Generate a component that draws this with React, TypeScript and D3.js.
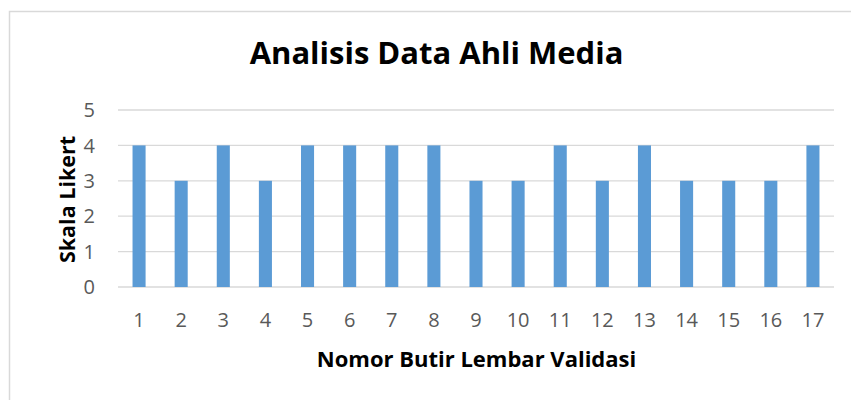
import React, { useEffect, useRef } from 'react';
import * as d3 from 'd3';

const items = ['1', '2', '3', '4', '5', '6', '7', '8', '9', '10', '11', '12', '13', '14', '15', '16', '17'];
const scores = [4, 3, 4, 3, 4, 4, 4, 4, 3, 3, 4, 3, 4, 3, 3, 3, 4];
const yTicks = [0, 1, 2, 3, 4, 5];

const FONT = "'Open Sans', sans-serif";

const App: React.FC = () => {
  const ref = useRef<SVGSVGElement | null>(null);

  useEffect(() => {
    if (!ref.current) return;
    const svg = d3.select(ref.current);
    svg.selectAll('*').remove();

    const width = 851;
    const height = 400;
    const left = 118;
    const right = 834;
    const top = 110;
    const bottom = 287;

    svg.append('rect').attr('width', width).attr('height', height).attr('fill', '#fff');

    // chart frame (runs off the right and bottom)
    svg.append('rect')
      .attr('x', 9.5).attr('y', 11.5)
      .attr('width', 900).attr('height', 500)
      .attr('fill', 'none').attr('stroke', '#d9d9d9').attr('stroke-width', 1.5);

    const x = d3.scaleBand<string>().domain(items).range([left, right]).paddingInner(0.69).paddingOuter(0.345);
    const y = d3.scaleLinear().domain([0, 5]).range([bottom, top]);

    svg.append('g').selectAll('line').data(yTicks).enter().append('line')
      .attr('x1', left).attr('x2', right)
      .attr('y1', d => y(d)).attr('y2', d => y(d))
      .attr('stroke', '#d9d9d9').attr('stroke-width', 1.3);

    svg.append('g').selectAll('rect').data(scores).enter().append('rect')
      .attr('x', (_, i) => x(items[i]) as number)
      .attr('y', d => y(d))
      .attr('width', x.bandwidth())
      .attr('height', d => bottom - y(d))
      .attr('fill', '#5b9bd5');

    svg.append('g').selectAll('text').data(yTicks).enter().append('text')
      .attr('x', 95).attr('y', d => y(d))
      .attr('dy', '0.36em')
      .attr('text-anchor', 'end')
      .attr('font-family', FONT).attr('font-size', 20)
      .attr('fill', '#595959')
      .text(d => d);

    svg.append('g').selectAll('text').data(items).enter().append('text')
      .attr('x', d => (x(d) as number) + x.bandwidth() / 2)
      .attr('y', 326.5)
      .attr('text-anchor', 'middle')
      .attr('font-family', FONT).attr('font-size', 20)
      .attr('fill', '#595959')
      .text(d => d);

    svg.append('text')
      .attr('x', 436.5).attr('y', 64)
      .attr('text-anchor', 'middle')
      .attr('font-family', FONT).attr('font-size', 31).attr('font-weight', 'bold')
      .attr('fill', '#000')
      .text('Analisis Data Ahli Media');

    svg.append('text')
      .attr('x', 476.5).attr('y', 366.5)
      .attr('text-anchor', 'middle')
      .attr('font-family', FONT).attr('font-size', 22).attr('font-weight', 'bold')
      .attr('fill', '#000')
      .text('Nomor Butir Lembar Validasi');

    svg.append('text')
      .attr('transform', 'translate(75,199.5) rotate(-90)')
      .attr('text-anchor', 'middle')
      .attr('font-family', FONT).attr('font-size', 21.5).attr('font-weight', 'bold')
      .attr('fill', '#000')
      .text('Skala Likert');
  }, []);

  return (
    <svg ref={ref} width={851} height={400} style={{ display: 'block', position: 'absolute', left: 0, top: 0 }} />
  );
};

export default App;
